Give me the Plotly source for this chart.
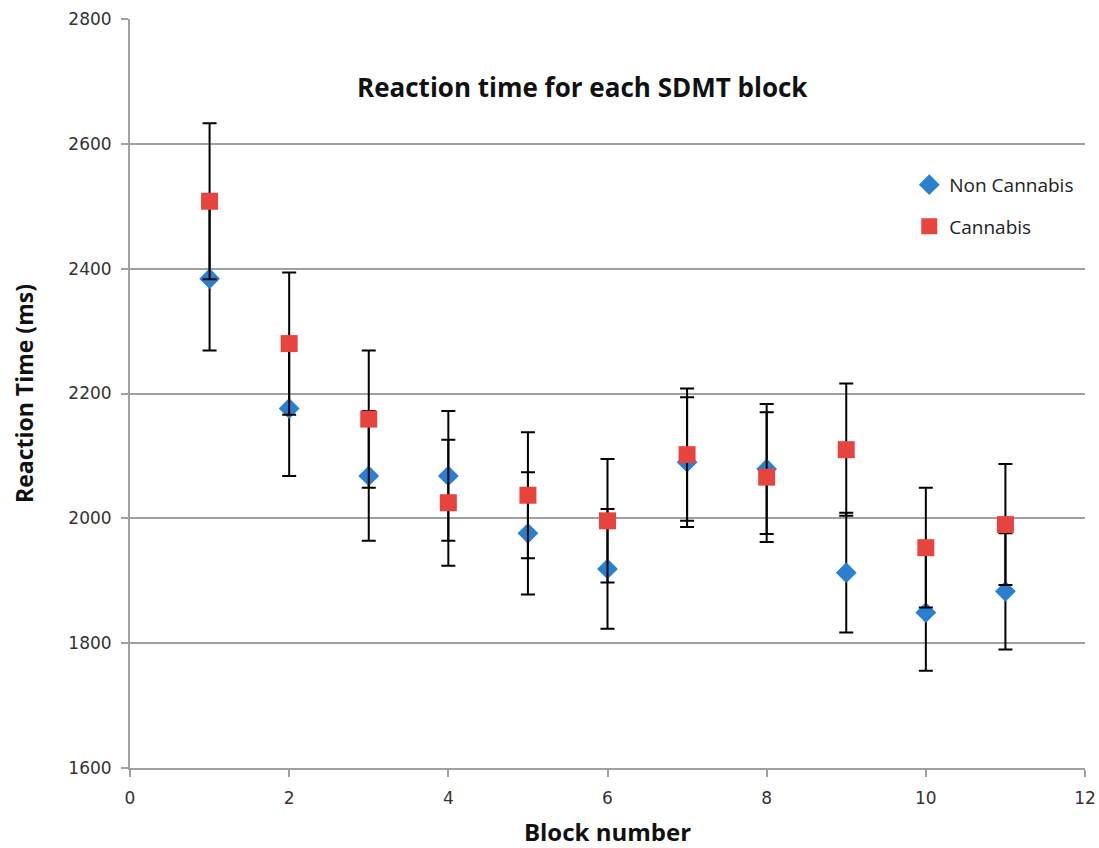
import plotly.graph_objects as go

blocks = [1, 2, 3, 4, 5, 6, 7, 8, 9, 10, 11]
non_cannabis = [2384, 2176, 2068, 2068, 1976, 1919, 2090, 2079, 1913, 1849, 1883]
non_cannabis_err = [115, 108, 104, 104, 98, 96, 104, 104, 96, 93, 93]
cannabis = [2508, 2280, 2159, 2025, 2037, 1996, 2102, 2066, 2110, 1953, 1990]
cannabis_err = [125, 114, 110, 101, 101, 99, 106, 104, 106, 96, 97]

x_ticks = [0, 2, 4, 6, 8, 10, 12]
y_ticks = [1600, 1800, 2000, 2200, 2400, 2600, 2800]

blue = "#2A7FCF"
red = "#E8443F"

fig = go.Figure()
fig.add_trace(go.Scatter(
    x=blocks, y=non_cannabis, mode="markers", name="Non Cannabis",
    legendgroup="nc",
    marker=dict(symbol="diamond", size=16, color=blue),
    error_y=dict(type="data", array=non_cannabis_err, visible=True,
                 color="black", thickness=2, width=7),
))
fig.add_trace(go.Scatter(
    x=blocks, y=cannabis, mode="markers", name="Cannabis",
    legendgroup="c",
    marker=dict(symbol="square", size=17, color=red),
    error_y=dict(type="data", array=cannabis_err, visible=True,
                 color="black", thickness=2, width=7),
))

axis_font = dict(family="DejaVu Sans", size=17, color="#333333")
grid_col = "#A0A0A0"
fig.update_layout(
    width=1099, height=848,
    margin=dict(l=130, r=14, t=19, b=80),
    paper_bgcolor="white", plot_bgcolor="white",
    showlegend=True,
    legend=dict(x=0.816, y=0.804, xanchor="left", yanchor="top",
                font=dict(family="Open Sans", size=19, color="#222222"),
                bgcolor="rgba(0,0,0,0)", itemsizing="trace",
                tracegroupgap=14),
    xaxis=dict(range=[0, 12], tickvals=x_ticks, ticks="outside", ticklen=7,
               tickcolor=grid_col, tickwidth=2, showline=True, linecolor=grid_col,
               linewidth=2, showgrid=False, zeroline=False, automargin=False,
               tickfont=axis_font, ticklabelstandoff=7,
               title=dict(text="<b>Block number</b>",
                          font=dict(family="Open Sans", size=24, color="#111111"),
                          standoff=18)),
    yaxis=dict(range=[1600, 2800], tickvals=y_ticks, ticks="outside", ticklen=7,
               tickcolor=grid_col, tickwidth=2, showline=True, linecolor=grid_col,
               linewidth=2, showgrid=True, gridcolor=grid_col, gridwidth=2,
               zeroline=False, automargin=False, tickfont=axis_font,
               ticklabelstandoff=6,
               title=dict(text="<b>Reaction Time (ms)</b>",
                          font=dict(family="Open Sans", size=23, color="#111111"),
                          standoff=28)),
    annotations=[dict(text="<b>Reaction time for each SDMT block</b>",
                      x=0.474, y=0.909, xref="paper", yref="paper",
                      xanchor="center", yanchor="middle",
                      showarrow=False,
                      font=dict(family="Open Sans", size=26, color="#111111"))],
)

fig.write_html(
    "out.html",
    config={"displayModeBar": False},
    post_script="document.body.style.margin='0';document.body.style.overflow='hidden';",
)
